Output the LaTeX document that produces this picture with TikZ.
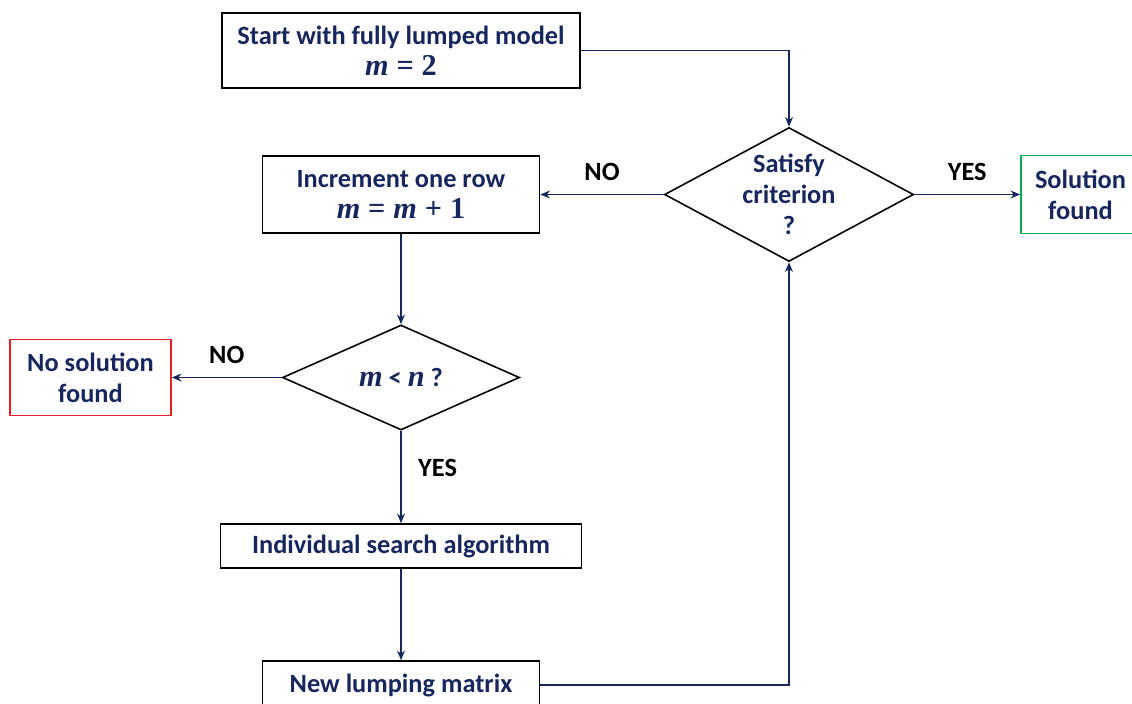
\documentclass[tikz,border=0pt]{standalone}
\usepackage{fontspec}
\setmainfont{Carlito}
\newfontfamily\mathfont[Scale=1.15]{Liberation Serif}
\newcommand{\mvar}[1]{{\mathfont\itshape #1}}
\newcommand{\meq}[1]{\hspace{0.3em}{\mathfont #1}\hspace{0.3em}}
\usetikzlibrary{shapes.geometric,arrows.meta}
\definecolor{navy}{RGB}{24,38,94}
\definecolor{okgreen}{RGB}{0,176,80}
\definecolor{badred}{RGB}{235,30,35}
\begin{document}
\begin{tikzpicture}[>={Stealth[length=5.5pt,width=4.5pt]},line width=0.9pt,
  every node/.style={font=\fontsize{15}{17.6}\selectfont\bfseries},
  box/.style={draw=black,align=center,text=navy,inner sep=2pt},
  test/.style={draw=black,diamond,align=center,text=navy,inner sep=0pt},
  link/.style={->,draw=navy},
  tag/.style={text=black}]
\useasboundingbox (0,0) rectangle (22.64,-14.06);

\node[box,minimum width=7.16cm,minimum height=1.5cm] (start) at (8.02,-1.01) {Start with fully lumped model\\\mvar{m}\meq{=}{\mathfont 2}};
\node[box,minimum width=5.54cm,minimum height=1.54cm] (inc) at (8.02,-3.89) {Increment one row\\\mvar{m}\meq{=}\mvar{m}\meq{+}{\mathfont 1}};
\node[test,aspect=1.86,inner sep=-3pt,minimum width=4.98cm,minimum height=2.68cm] (sat) at (15.78,-3.89) {Satisfy\\criterion\\?};
\node[box,draw=okgreen,minimum width=2.38cm,minimum height=1.56cm] (sol) at (21.61,-3.89) {Solution\\found};

\node[test,aspect=2.26,minimum width=4.74cm,minimum height=2.1cm] (less) at (8.02,-7.55) {\mvar{m} < \mvar{n} ?};
\node[box,draw=badred,minimum width=3.22cm,minimum height=1.52cm] (nosol) at (1.81,-7.55) {No solution\\found};

\node[box,minimum width=7.22cm,minimum height=0.88cm] (search) at (8.02,-10.92) {Individual search algorithm};
\node[box,minimum width=5.54cm,minimum height=0.96cm] (lump) at (8.02,-13.7) {New lumping matrix};

\draw[link] (start.east) -| (sat.north);
\draw[link] (sat.west) -- (inc.east) node[tag,midway,above=4pt] {NO};
\draw[link] (sat.east) -- (sol.west) node[tag,midway,above=4pt] {YES};
\draw[link] (inc.south) -- (less.north);
\draw[link] (less.west) -- (nosol.east) node[tag,midway,above=4pt] {NO};
\draw[link] (less.south) -- (search.north) node[tag,pos=0.4,right=6pt] {YES};
\draw[link] (search.south) -- (lump.north);
\draw[link] (lump.east) -| (sat.south);
\end{tikzpicture}
\end{document}
